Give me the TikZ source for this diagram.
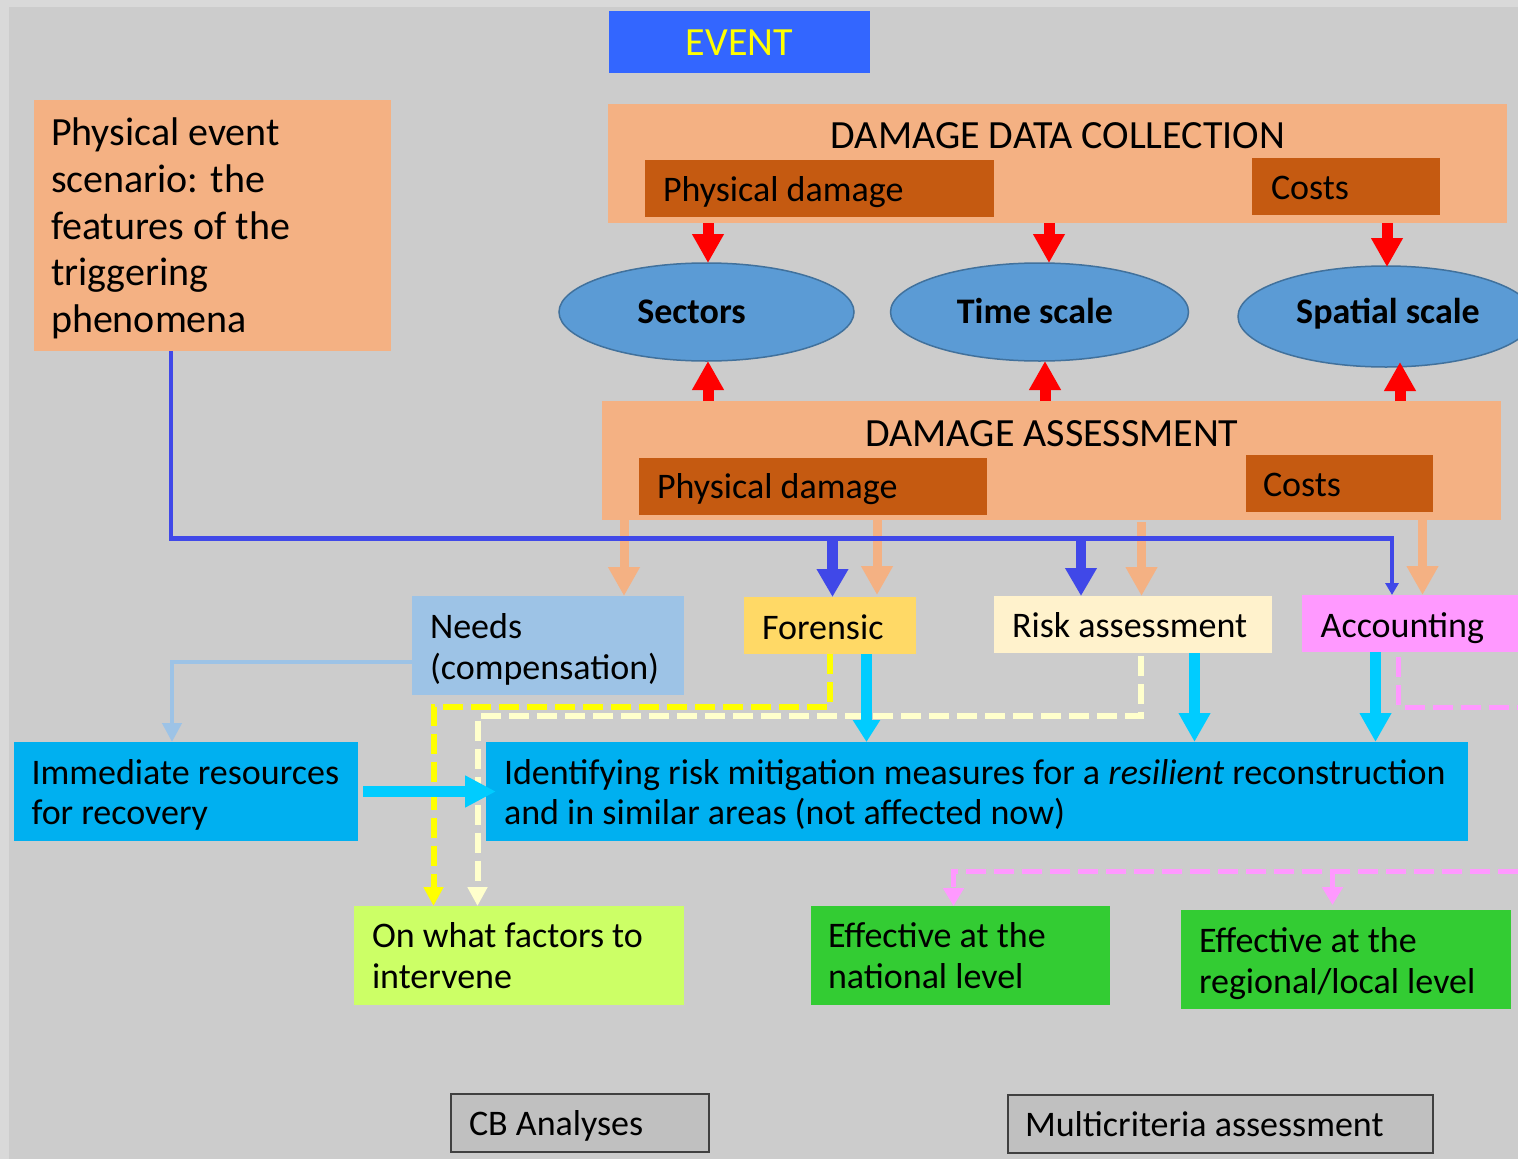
\documentclass[tikz,border=0pt]{standalone}
\usepackage{fontspec}
\setmainfont{Carlito}
\usetikzlibrary{arrows.meta,shapes.geometric}

\definecolor{bgout}{HTML}{D9D9D9}
\definecolor{bgin}{HTML}{CCCCCC}
\definecolor{eventblue}{HTML}{3366FF}
\definecolor{peach}{HTML}{F4B183}
\definecolor{rust}{HTML}{C55A11}
\definecolor{ellfill}{HTML}{5B9BD5}
\definecolor{elldraw}{HTML}{41719C}
\definecolor{arrred}{HTML}{FF0000}
\definecolor{linkblue}{HTML}{4048E8}
\definecolor{needsblue}{HTML}{9DC3E6}
\definecolor{forgold}{HTML}{FFD966}
\definecolor{riskcream}{HTML}{FFF2CC}
\definecolor{accpink}{HTML}{FF99FF}
\definecolor{skyfill}{HTML}{00B0F0}
\definecolor{cyanarr}{HTML}{00CCFF}
\definecolor{dashyellow}{HTML}{FFFF00}
\definecolor{dashcream}{HTML}{FFFFCC}
\definecolor{lime}{HTML}{CCFF66}
\definecolor{leaf}{HTML}{33CC33}
\definecolor{greybox}{HTML}{C0C0C0}
\definecolor{greyedge}{HTML}{404040}

\newcommand\fsn{\fontsize{36}{40.5}\selectfont}
\newcommand\fsl{\fontsize{40}{46.7}\selectfont}

\begin{document}
\begin{tikzpicture}[x=1pt,y=-1pt,
  box/.style={rectangle, inner sep=0pt, outer sep=0pt, anchor=north west, draw=none},
  oval/.style={ellipse, inner sep=0pt, outer sep=0pt, fill=ellfill, draw=elldraw, line width=1.5pt},
  txt/.style={inner sep=0pt, outer sep=0pt, anchor=base west, align=left, font=\fsn, text=black},
  ovaltxt/.style={inner sep=0pt, outer sep=0pt, anchor=base, font=\fsn\bfseries, text=black},
  redarr/.style={draw=arrred, line width=11pt, -{Triangle[width=30pt,length=29pt]}},
  peacharr/.style={draw=peach, line width=9pt, -{Triangle[width=30pt,length=29pt]}},
  bluearr/.style={draw=linkblue, line width=10.5pt, -{Triangle[width=30pt,length=28pt]}},
  blueline/.style={draw=linkblue, line width=4.5pt},
  cyanarr/.style={draw=cyanarr, line width=10.5pt, -{Triangle[width=30pt,length=29pt]}},
  lbluearr/.style={draw=needsblue, line width=4.3pt, -{Triangle[width=19pt,length=19pt]}},
  ydash/.style={draw=dashyellow, line width=6pt, dash pattern=on 20pt off 8pt, -{Triangle[width=19pt,length=19pt]}},
  cdash/.style={draw=dashcream, line width=6pt, dash pattern=on 20pt off 8pt, -{Triangle[width=19pt,length=19pt]}},
  pdash/.style={draw=accpink, line width=5pt, dash pattern=on 20pt off 8pt},
  pdasharr/.style={pdash, -{Triangle[width=20pt,length=18pt]}},
  greyframe/.style={box, fill=greybox, draw=greyedge, line width=2pt}
]
% canvas
\useasboundingbox (0,0) rectangle (1518,1159);
\fill[bgout] (0,0) rectangle (1518,1159);
\fill[bgin] (9,7) rectangle (1518,1159);

% ---------- boxes ----------
\node[box, fill=eventblue, minimum width=261, minimum height=62] (event) at (609,11) {};
\node[box, fill=peach, minimum width=357, minimum height=251] (phys) at (34,100) {};
\node[box, fill=peach, minimum width=899, minimum height=119] (ddc) at (608,104) {};
\node[box, fill=rust, minimum width=349, minimum height=57] (ddcpd) at (645,160) {};
\node[box, fill=rust, minimum width=188, minimum height=57] (ddcco) at (1252,158) {};
\node[box, fill=peach, minimum width=899, minimum height=119] (da) at (602,401) {};
\node[box, fill=rust, minimum width=348, minimum height=57] (dapd) at (639,458) {};
\node[box, fill=rust, minimum width=187, minimum height=57] (daco) at (1246,455) {};
\node[box, fill=needsblue, minimum width=272, minimum height=99] (needs) at (412,596) {};
\node[box, fill=forgold, minimum width=172, minimum height=57] (fore) at (744,597) {};
\node[box, fill=riskcream, minimum width=278, minimum height=57] (risk) at (994,596) {};
\node[box, fill=accpink, minimum width=230, minimum height=57] (acc) at (1302,595) {};
\node[box, fill=skyfill, minimum width=344, minimum height=99] (imm) at (14,742) {};
\node[box, fill=skyfill, minimum width=982, minimum height=99] (ident) at (486,742) {};
\node[box, fill=lime, minimum width=330, minimum height=99] (onwhat) at (354,906) {};
\node[box, fill=leaf, minimum width=299, minimum height=99] (nat) at (811,906) {};
\node[box, fill=leaf, minimum width=330, minimum height=99] (reg) at (1181,910) {};
\node[greyframe, minimum width=258, minimum height=58] (cb) at (451,1094) {};
\node[greyframe, minimum width=425, minimum height=58] (mc) at (1008,1095) {};

% ---------- ellipses ----------
\node[oval, minimum width=295, minimum height=98] (sec) at (706.5,312) {};
\node[oval, minimum width=298, minimum height=98] (time) at (1039.5,312) {};
\node[oval, minimum width=296, minimum height=101] (spat) at (1386,316.5) {};

% ---------- texts (multi-line ones are anchored on their last baseline) ----------
\node[inner sep=0pt, anchor=base, font=\fsl, text=dashyellow] (eventtxt) at (739.5,55) {EVENT};
\node[txt, font=\fsl] (phystxt) at (51,332.5) {Physical event\\scenario: the\\features of the\\triggering\\phenomena};
\node[inner sep=0pt, anchor=base, font=\fsl] (ddctxt) at (1058,148.5) {DAMAGE DATA COLLECTION};
\node[txt] (ddcpdtxt) at (663,201.5) {Physical damage};
\node[txt] (ddccotxt) at (1271,199.5) {Costs};
\node[inner sep=0pt, anchor=base, font=\fsl] (datxt) at (1052,446.5) {DAMAGE ASSESSMENT};
\node[txt] (dapdtxt) at (657,498.5) {Physical damage};
\node[txt] (dacotxt) at (1263,496.5) {Costs};
\node[ovaltxt] (sectxt) at (691.5,323.5) {Sectors};
\node[ovaltxt] (timetxt) at (1035,323.5) {Time scale};
\node[ovaltxt] (spattxt) at (1388,323) {Spatial scale};
\node[txt] (needstxt) at (430,679) {Needs\\(compensation)};
\node[txt] (foretxt) at (762,639) {Forensic};
\node[txt] (risktxt) at (1012,637) {Risk assessment};
\node[txt] (acctxt) at (1320.7,637) {Accounting};
\node[txt] (immtxt) at (31.5,824.5) {Immediate resources\\for recovery};
\node[txt] (identtxt) at (504,824.5) {Identifying risk mitigation measures for a \textit{resilient} reconstruction\\and in similar areas (not affected now)};
\node[txt] (onwhattxt) at (372,988) {On what factors to\\intervene};
\node[txt] (nattxt) at (828,988) {Effective at the\\national level};
\node[txt] (regtxt) at (1199,993) {Effective at the\\regional/local level};
\node[txt] (cbtxt) at (469,1135.5) {CB Analyses};
\node[txt] (mctxt) at (1025,1136.5) {Multicriteria assessment};

% ---------- column and row guides for connectors ----------
\coordinate (rA) at (708,0);
\coordinate (rB) at (1049,0);
\coordinate (rBu) at (1045,0);
\coordinate (rC) at (1387,0);
\coordinate (rCu) at (1400,0);
\coordinate (o1) at (624,0);
\coordinate (o2) at (877,0);
\coordinate (o3) at (1141.5,0);
\coordinate (o4) at (1422.5,0);
\coordinate (bsrc) at (171,0);
\coordinate (brow) at (0,538.3);
\coordinate (b1) at (832.5,0);
\coordinate (b2) at (1081,0);
\coordinate (b3) at (1392,0);
\coordinate (lbrow) at (0,662);
\coordinate (lbcol) at (172,0);
\coordinate (k1) at (866.5,0);
\coordinate (k2) at (1194.5,0);
\coordinate (k3) at (1375.5,0);
\coordinate (ya) at (830,0);
\coordinate (yb) at (433.5,0);
\coordinate (yrow) at (0,707);
\coordinate (ca) at (1141,0);
\coordinate (cbcol) at (477.5,0);
\coordinate (crow) at (0,716);
\coordinate (pa) at (1398.5,0);
\coordinate (pout1) at (1518,707);
\coordinate (pout2) at (1518,871.5);
\coordinate (pn) at (953.5,0);
\coordinate (pr) at (1332.5,0);

% ---------- red arrows around the ellipses ----------
\draw[redarr] (ddc.south -| rA) -- (sec.north -| rA);
\draw[redarr] (ddc.south -| rB) -- (time.north -| rB);
\draw[redarr] (ddc.south -| rC) -- ([yshift=-1pt]spat.north -| rC);
\draw[redarr] (da.north -| rA) -- (sec.south -| rA);
\draw[redarr] (da.north -| rBu) -- (time.south -| rBu);
\draw[redarr] (da.north -| rCu) -- ([yshift=5pt]spat.south -| rCu);

% ---------- peach arrows out of the assessment ----------
\draw[peacharr] (da.south -| o1) -- (needs.north -| o1);
\draw[peacharr] (da.south -| o2) -- ([yshift=2pt]fore.north -| o2);
\draw[peacharr] ([yshift=-2pt]da.south -| o3) -- (risk.north -| o3);
\draw[peacharr] (da.south -| o4) -- (acc.north -| o4);

% ---------- blue scenario line ----------
\draw[blueline, -{Triangle[width=13pt,length=12pt]}, line join=miter]
  (phys.south -| bsrc) |- (brow -| b3) -- (acc.north -| b3);
\draw[bluearr] (brow -| b1) -- (fore.north -| b1);
\draw[bluearr] (brow -| b2) -- (risk.north -| b2);

% ---------- needs to immediate resources ----------
\draw[lbluearr, line join=miter] (needs.west |- lbrow) -| (imm.north -| lbcol);

% ---------- dashed links to "On what factors" ----------
\draw[ydash, line join=miter] (fore.south -| ya) |- (yb |- yrow) -- (onwhat.north -| yb);
\draw[cdash, line join=miter] ([yshift=-3pt]risk.south -| ca) |- (cbcol |- crow) -- (onwhat.north -| cbcol);

% ---------- cyan arrows into the mitigation box ----------
\draw[cyanarr, -{Triangle[width=26pt,length=22pt]}] (fore.south -| k1) -- (ident.north -| k1);
\draw[cyanarr] (risk.south -| k2) -- (ident.north -| k2);
\draw[cyanarr] (acc.south -| k3) -- (ident.north -| k3);
\draw[cyanarr, line width=11pt, -{Triangle[width=30pt,length=31pt]}]
  ([xshift=5pt]imm.east) -- ([xshift=10pt]ident.west);

% ---------- pink dashed links ----------
\draw[pdash, line join=miter] ([yshift=-5pt]acc.south -| pa) |- (pout1);
\draw[pdasharr, line join=miter] (pout2) -| (nat.north -| pn);
\draw[pdasharr] (pout2 -| pr) -- ([yshift=5pt]reg.north -| pr);
\end{tikzpicture}
\end{document}
